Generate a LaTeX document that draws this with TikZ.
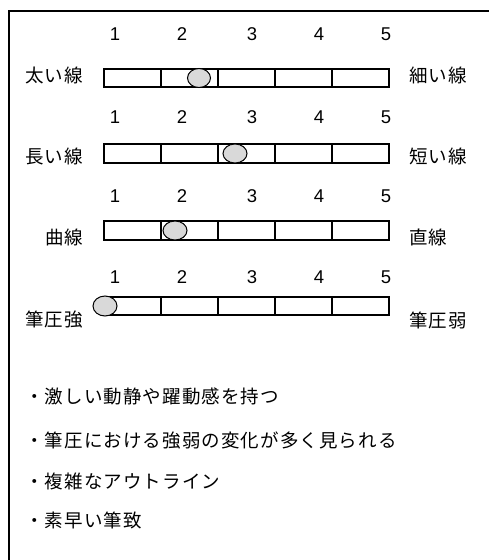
\documentclass[tikz,border=0pt]{standalone}
\usepackage{fontspec}
\setmainfont{Liberation Sans}
\newfontfamily\jp[LetterSpace=6]{Noto Sans CJK JP}
\begin{document}
\begin{tikzpicture}[x=1pt,y=-1pt,
  num/.style={font=\fontsize{18.5}{20}\selectfont, inner sep=0pt},
  lab/.style={font=\jp\fontsize{18.5}{20}\selectfont, inner sep=0pt, anchor=west},
  bul/.style={font=\jp\fontsize{18.5}{20}\selectfont, inner sep=0pt, anchor=west},
  barline/.style={draw=black, line width=1.2pt},
  dot/.style={draw=black, line width=1pt, fill=black!15}]
\useasboundingbox (0,0) rectangle (488,560);
\draw[line width=1.3pt] (9,580) -- (9,11) -- (500,11);

% numbers rows
\foreach \r/\y in {1/34.5,2/117,3/196,4/277}{
  \foreach \n/\x in {1/115,2/182,3/252,4/319,5/386}{
    \node[num] (n\r\n) at (\x,\y) {\n};
  }
}
% bars
\foreach \r/\ya/\yb in {1/69/87,2/144/163,3/221/240,4/297/315}{
  \draw[barline] (104,\ya) rectangle (389,\yb);
  \foreach \x in {161,218,275,332}{
    \draw[barline] (\x,\ya) -- (\x,\yb);
  }
}
% markers
\draw[dot] (199,78) ellipse [x radius=11.5, y radius=9.5];
\draw[dot] (235,153.5) ellipse [x radius=12, y radius=9.5];
\draw[dot] (175,230.5) ellipse [x radius=12, y radius=9.5];
\draw[dot] (105,306) ellipse [x radius=12, y radius=10];

% labels
\node[lab] (l1) at (25,75) {太い線};
\node[lab] (r1) at (409,75) {細い線};
\node[lab] (l2) at (25,156) {長い線};
\node[lab] (r2) at (409,156) {短い線};
\node[lab] (l3) at (45,237) {曲線};
\node[lab] (r3) at (409,237) {直線};
\node[lab] (l4) at (25,320) {筆圧強};
\node[lab] (r4) at (409,320) {筆圧弱};

% bullets
\node[bul] (b1) at (25,396) {・激しい動静や躍動感を持つ};
\node[bul] (b2) at (25,440) {・筆圧における強弱の変化が多く見られる};
\node[bul] (b3) at (25,481) {・複雑なアウトライン};
\node[bul] (b4) at (25,520) {・素早い筆致};
\end{tikzpicture}
\end{document}
